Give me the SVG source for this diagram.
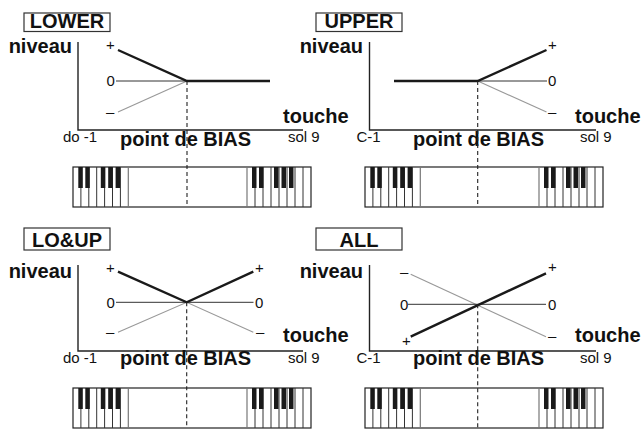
<svg xmlns="http://www.w3.org/2000/svg" xmlns:xlink="http://www.w3.org/1999/xlink" width="643" height="430" viewBox="0 0 643 430">
<style>
text{font-family:"Liberation Sans",Arial,Helvetica,sans-serif;fill:#111}
.tag{font-size:20px;font-weight:bold;text-anchor:middle}
.lbl{font-size:20px;font-weight:bold}
.sm{font-size:15px}
.box{fill:#fff;stroke:#333;stroke-width:1.2}
.axis{fill:none;stroke:#222;stroke-width:1.4}
.thick{fill:none;stroke:#1a1a1a;stroke-width:2.4}
.zero{fill:none;stroke:#333;stroke-width:1}
.gray{fill:none;stroke:#999;stroke-width:1.2}
.dash{fill:none;stroke:#222;stroke-width:1.1;stroke-dasharray:4 3}
.wk{stroke:#333;stroke-width:1}
.div{stroke:#777;stroke-width:1.2}
.bk{fill:#1a1a1a}
</style>
<defs>
<g id="kbd">
<rect x="0" y="0" width="238" height="40" fill="#fff" stroke="#222" stroke-width="1.2"/>
<g class="wk">
<line x1="7.9" y1="0" x2="7.9" y2="40"/><line x1="15.8" y1="0" x2="15.8" y2="40"/><line x1="23.7" y1="0" x2="23.7" y2="40"/><line x1="31.6" y1="0" x2="31.6" y2="40"/><line x1="39.5" y1="0" x2="39.5" y2="40"/><line x1="47.4" y1="0" x2="47.4" y2="40"/>
<line x1="182" y1="0" x2="182" y2="40"/><line x1="190" y1="0" x2="190" y2="40"/><line x1="198" y1="0" x2="198" y2="40"/><line x1="206" y1="0" x2="206" y2="40"/><line x1="214" y1="0" x2="214" y2="40"/><line x1="222" y1="0" x2="222" y2="40"/><line x1="230" y1="0" x2="230" y2="40"/>
</g>
<line class="div" x1="55.3" y1="0" x2="55.3" y2="40"/>
<line class="div" x1="174" y1="0" x2="174" y2="40"/>
<g class="bk">
<rect x="5.3" y="0" width="4.5" height="21"/><rect x="12.3" y="0" width="4.5" height="21"/><rect x="27.8" y="0" width="4.5" height="21"/><rect x="35.2" y="0" width="4.5" height="21"/><rect x="42.6" y="0" width="4.5" height="21"/>
<rect x="179" y="0" width="4.5" height="21"/><rect x="186" y="0" width="4.5" height="21"/><rect x="201" y="0" width="4.5" height="21"/><rect x="208.5" y="0" width="4.5" height="21"/><rect x="216" y="0" width="4.5" height="21"/>
</g>
</g>
</defs>

<g id="lower">
<rect class="box" x="24" y="13" width="86" height="18.5"/>
<text class="tag" x="67" y="28">LOWER</text>
<text class="lbl" x="72" y="53" text-anchor="end">niveau</text>
<path class="axis" d="M78,42 V130 H303"/>
<text class="lbl" x="283" y="123">touche</text>
<text class="sm" x="106" y="50">+</text>
<text class="sm" x="106.5" y="86">0</text>
<text class="sm" x="106" y="117">–</text>
<text class="sm" x="63" y="142">do -1</text>
<text class="lbl" x="120" y="146">point de BIAS</text>
<text class="sm" x="288" y="142">sol 9</text>
<use xlink:href="#kbd" href="#kbd" x="73" y="167"/>
</g>

<g id="upper">
<rect class="box" x="316" y="13" width="86" height="18.5"/>
<text class="tag" x="359" y="28">UPPER</text>
<text class="lbl" x="363" y="53" text-anchor="end">niveau</text>
<path class="axis" d="M369.5,42 V130 H596"/>
<text class="lbl" x="575" y="123">touche</text>
<text class="sm" x="548" y="50">+</text>
<text class="sm" x="548" y="86">0</text>
<text class="sm" x="548" y="117">–</text>
<text class="sm" x="356.5" y="142">C-1</text>
<text class="lbl" x="413" y="146">point de BIAS</text>
<text class="sm" x="580" y="142">sol 9</text>
<use xlink:href="#kbd" href="#kbd" x="365" y="167"/>
</g>

<g id="loup">
<rect class="box" x="24" y="228" width="86" height="22"/>
<text class="tag" x="67" y="246.5">LO&amp;UP</text>
<text class="lbl" x="72" y="278" text-anchor="end">niveau</text>
<path class="axis" d="M78,265 V351 H303"/>
<text class="lbl" x="283" y="341.5">touche</text>
<text class="sm" x="106" y="273">+</text>
<text class="sm" x="106.5" y="308">0</text>
<text class="sm" x="106" y="337">–</text>
<text class="sm" x="255" y="273">+</text>
<text class="sm" x="255" y="308">0</text>
<text class="sm" x="256" y="337">–</text>
<text class="sm" x="63" y="363">do -1</text>
<text class="lbl" x="120" y="365">point de BIAS</text>
<text class="sm" x="288" y="363">sol 9</text>
<use xlink:href="#kbd" href="#kbd" x="73" y="388"/>
</g>

<g id="all">
<rect class="box" x="316" y="228" width="86" height="22"/>
<text class="tag" x="359" y="246.5">ALL</text>
<text class="lbl" x="363" y="278" text-anchor="end">niveau</text>
<path class="axis" d="M369.5,265 V351 H596"/>
<text class="lbl" x="575" y="341.5">touche</text>
<text class="sm" x="400" y="277">–</text>
<text class="sm" x="400" y="309.5">0</text>
<text class="sm" x="402" y="346">+</text>
<text class="sm" x="548" y="272">+</text>
<text class="sm" x="548" y="309.5">0</text>
<text class="sm" x="548" y="341">–</text>
<text class="sm" x="356.5" y="363">C-1</text>
<text class="lbl" x="413" y="365">point de BIAS</text>
<text class="sm" x="580" y="363">sol 9</text>
<use xlink:href="#kbd" href="#kbd" x="365" y="388"/>
</g>

<g id="connectors">
<path class="gray" d="M118,112 L187,81"/>
<path class="zero" d="M116,81 H187"/>
<path class="thick" d="M118,50 L187,81 H270"/>
<path class="dash" d="M187,81 V207"/>

<path class="gray" d="M477.7,81 L546.5,112"/>
<path class="zero" d="M477.7,81 H547"/>
<path class="thick" d="M394,81 H477.7 L546.5,50"/>
<path class="dash" d="M477.7,81 V207"/>

<path class="gray" d="M118,332.3 L186.7,302.3 L253.3,332.3"/>
<path class="zero" d="M116,302.3 H253.5"/>
<path class="thick" d="M118,271.7 L186.7,302.3 L253.3,271.7"/>
<path class="dash" d="M186.7,302.3 V428"/>

<path class="gray" d="M410.7,274.3 L546,336.7"/>
<path class="zero" d="M408,304.3 H546"/>
<path class="thick" d="M410.7,336.7 L546,273.3"/>
<path class="dash" d="M477.7,304.3 V428"/>
</g>
</svg>
